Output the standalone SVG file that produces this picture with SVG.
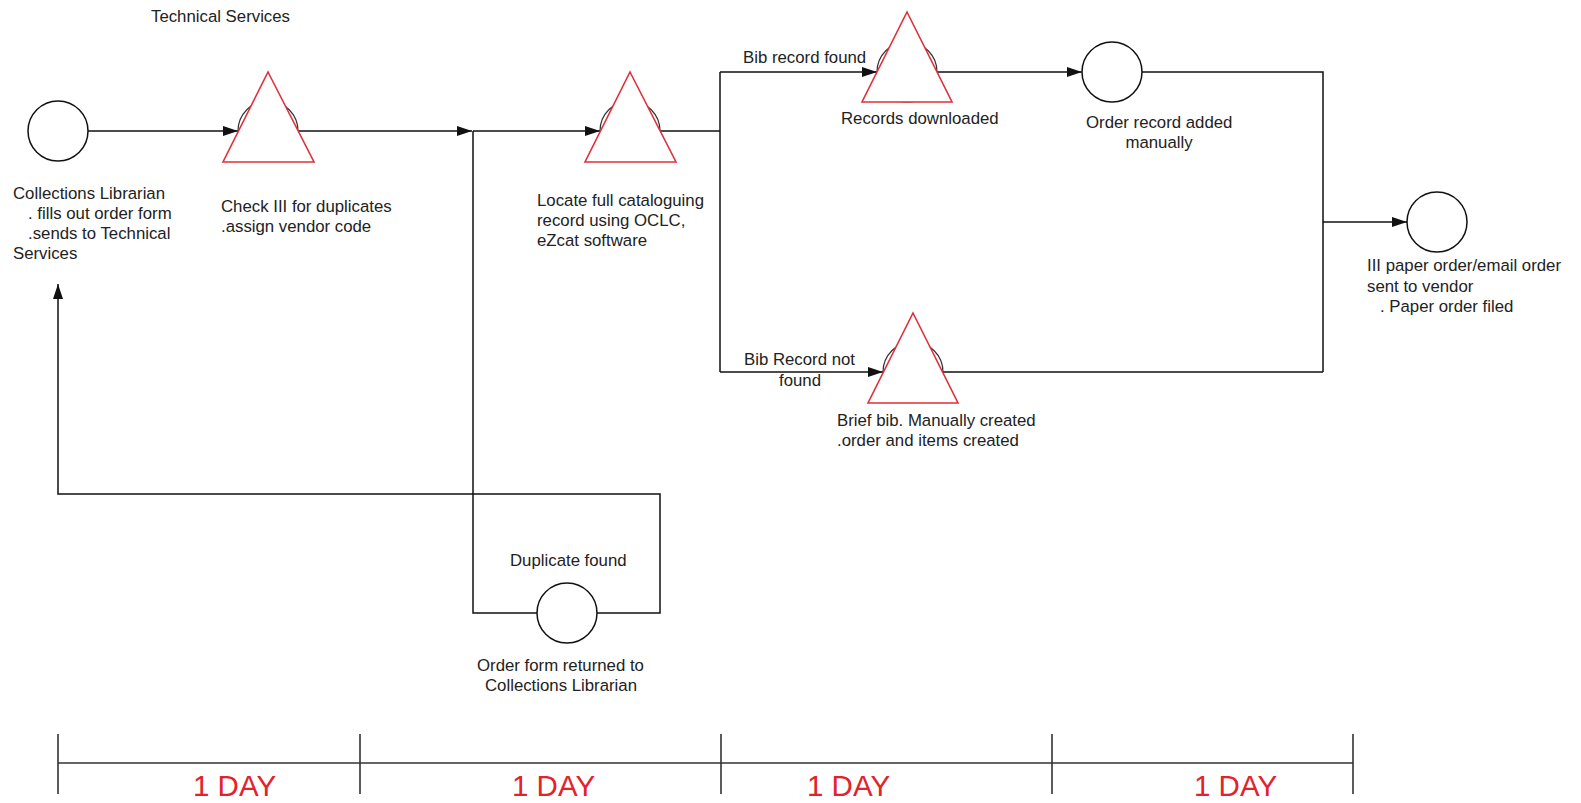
<svg xmlns="http://www.w3.org/2000/svg" width="1581" height="803" viewBox="0 0 1581 803">
<style>
text{font-family:"Liberation Sans",Arial,sans-serif;font-size:16.8px;fill:#222}
.mid{text-anchor:middle}
.day{font-size:29.5px;fill:#e3222b}
.ln{fill:none;stroke:#111;stroke-width:1.5}
.arr{fill:none;stroke:#111;stroke-width:1.5;marker-end:url(#ah)}
.circ{fill:#fff;stroke:#111;stroke-width:1.5}
.halo{fill:none;stroke:#333;stroke-width:1.2}
.tri{fill:#fff;stroke:#e0303a;stroke-width:1.6}
.tl{fill:none;stroke:#333;stroke-width:1.6}
</style>
<defs>
<marker id="ah" markerUnits="userSpaceOnUse" markerWidth="16" markerHeight="12" refX="15" refY="5" orient="auto">
<path d="M0,0 L15,5 L0,10 z" fill="#111"/>
</marker>
</defs>
<rect width="1581" height="803" fill="#fff"/>
<text x="151" y="22">Technical Services</text>
<g id="connectors">
<path class="arr" d="M88,131 H238"/>
<path class="arr" d="M298,131 H472"/>
<path class="arr" d="M473,131 H600"/>
<path class="ln" d="M660,131 H720"/>
<path class="ln" d="M720,72 V372"/>
<path class="arr" d="M720,72 H877"/>
<path class="arr" d="M937,72 H1082"/>
<path class="ln" d="M1142,72 H1323 V372"/>
<path class="arr" d="M1323,222 H1407"/>
<path class="arr" d="M720,372 H883"/>
<path class="ln" d="M943,372 H1323"/>
<path class="ln" d="M473,131 V613 H537"/>
<path class="ln" d="M597,613 H660 V494 H58 V300"/>
<path class="arr" d="M58,300 V284"/>
</g>
<g id="n-collections">
<circle class="circ" cx="58" cy="131" r="30"/>
<text x="13" y="199">Collections Librarian</text>
<text x="28" y="219">. fills out order form</text>
<text x="28" y="239">.sends to Technical</text>
<text x="13" y="259">Services</text>
</g>
<g id="n-check">
<circle class="halo" cx="268" cy="131" r="30"/>
<polygon class="tri" points="268,72 314,162 223,162"/>
<text x="221" y="212">Check III for duplicates</text>
<text x="221" y="232">.assign vendor code</text>
</g>
<g id="n-locate">
<circle class="halo" cx="630" cy="131" r="30"/>
<polygon class="tri" points="630,72 676,162 585,162"/>
<text x="537" y="206">Locate full cataloguing</text>
<text x="537" y="226">record using OCLC,</text>
<text x="537" y="246">eZcat software</text>
</g>
<g id="n-downloaded">
<circle class="halo" cx="907" cy="72" r="30"/>
<polygon class="tri" points="907,12 952,102 862,102"/>
<text x="743" y="63">Bib record found</text>
<text x="841" y="124">Records downloaded</text>
</g>
<g id="n-order-record">
<circle class="circ" cx="1112" cy="72" r="30"/>
<text x="1086" y="128">Order record added</text>
<text class="mid" x="1159" y="148">manually</text>
</g>
<g id="n-sent">
<circle class="circ" cx="1437" cy="222" r="30"/>
<text x="1367" y="271">III paper order/email order</text>
<text x="1367" y="292">sent to vendor</text>
<text x="1380" y="312">. Paper order filed</text>
</g>
<g id="n-brief">
<circle class="halo" cx="913" cy="372" r="30"/>
<polygon class="tri" points="913,313 958,403 868,403"/>
<text x="744" y="365">Bib Record not</text>
<text class="mid" x="800" y="386">found</text>
<text x="837" y="426">Brief bib. Manually created</text>
<text x="837" y="446">.order and items created</text>
</g>
<g id="n-returned">
<circle class="circ" cx="567" cy="613" r="30"/>
<text x="510" y="566">Duplicate found</text>
<text x="477" y="671">Order form returned to</text>
<text class="mid" x="561" y="691">Collections Librarian</text>
</g>
<g id="timeline">
<path class="tl" d="M58,763 H1353 M58,734 V794 M360,734 V794 M721,734 V794 M1052,734 V794 M1353,734 V794"/>
<text class="day" x="193" y="796">1 DAY</text>
<text class="day" x="512" y="796">1 DAY</text>
<text class="day" x="807" y="796">1 DAY</text>
<text class="day" x="1194" y="796">1 DAY</text>
</g>
</svg>
